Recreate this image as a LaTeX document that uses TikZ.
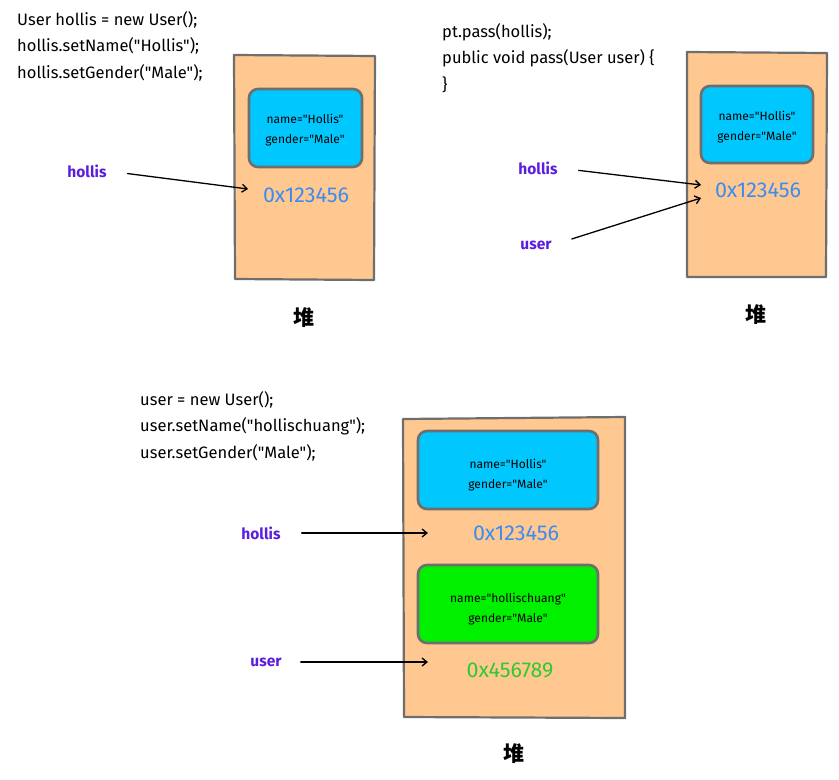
\documentclass[tikz,border=0pt]{standalone}
\usepackage{fontspec}
\setmainfont{Fira Sans}[Ligatures=TeXOff]
\newfontfamily\cjkfont{Noto Sans CJK SC}
\usetikzlibrary{arrows.meta}

\definecolor{heapfill}{HTML}{FFC891}
\definecolor{heapline}{HTML}{6E6E6E}
\definecolor{objblue}{HTML}{00C8FF}
\definecolor{objgreen}{HTML}{00F000}
\definecolor{varpurple}{HTML}{5A1EDC}
\definecolor{addrblue}{HTML}{3C8CF0}
\definecolor{addrgreen}{HTML}{32C832}

\tikzset{
  heap/.style={draw=heapline, fill=heapfill, line width=2.2pt, line join=round},
  obj/.style={draw=heapline, line width=2.6pt, rounded corners=9pt},
  code/.style={anchor=north west, inner sep=0pt, align=left,
    font=\fontsize{16.5}{26.7}\selectfont},
  fields/.style={align=center, inner sep=1pt, font=\fontsize{12}{19.5}\selectfont},
  addr/.style={inner sep=2pt, font=\fontsize{21.5}{24}\selectfont},
  var/.style={text=varpurple, inner sep=1pt, font=\fontsize{15.5}{18}\selectfont\bfseries},
  heaplabel/.style={inner sep=0pt, font=\cjkfont\fontsize{21}{23}\selectfont\bfseries},
  ptr/.style={-{Straight Barb[length=5pt,width=8pt]}, line width=1.3pt, line cap=round}
}

\begin{document}
\begin{tikzpicture}[x=1pt, y=-1pt]
\useasboundingbox (0,0) rectangle (839,780);

% ---------- step 1: create hollis ----------
\node[code] (code1) at (17,11)
  {User hollis = new User();\\hollis.setName("Hollis");\\hollis.setGender("Male");};
\draw[heap] (234,55) -- (375,56) -- (374,280) -- (235,279) -- cycle;
\draw[obj, fill=objblue] (249,89) rectangle (362,167);
\node[fields] (f1) at (305,130) {name="Hollis"\\gender="Male"};
\node[addr, text=addrblue] (a1) at (306,195) {0x123456};
\node[var] (h1) at (87,171) {hollis};
\node[heaplabel] (heap1) at (304,318) {堆};
\coordinate (a1in) at (248,189);
\draw[ptr, shorten <=20pt] (h1.east) -- (a1in);

% ---------- step 2: pass hollis as user ----------
\node[code] (code2) at (442,23)
  {pt.pass(hollis);\\public void pass(User user) \{\\\}};
\draw[heap] (687,52) -- (827,53) -- (826,277) -- (687,277) -- cycle;
\draw[obj, fill=objblue] (701,86) rectangle (813,163);
\node[fields] (f2) at (757,127) {name="Hollis"\\gender="Male"};
\node[addr, text=addrblue] (a2) at (758,190) {0x123456};
\node[var] (h2) at (538,168) {hollis};
\node[var] (u2) at (536,245) {user};
\node[heaplabel] (heap2) at (756,315) {堆};
\coordinate (a2in1) at (701,185);
\coordinate (a2in2) at (701,198);
\draw[ptr, shorten <=20pt] (h2.east) -- (a2in1);
\draw[ptr, shorten <=20pt] (u2.east) -- (a2in2);

% ---------- step 3: user gets a new object ----------
\node[code] (code3) at (140,391)
  {user = new User();\\user.setName("hollischuang");\\user.setGender("Male");};
\draw[heap] (403,419) -- (625,417) -- (625,718) -- (404,717) -- cycle;
\draw[obj, fill=objblue] (418,431) rectangle (598,509);
\node[fields] (f3) at (508,475) {name="Hollis"\\gender="Male"};
\draw[obj, fill=objgreen] (418,565) rectangle (598,643);
\node[fields] (f4) at (508,609) {name="hollischuang"\\gender="Male"};
\node[addr, text=addrblue] (a3) at (516,533) {0x123456};
\node[addr, text=addrgreen] (a4) at (510,670) {0x456789};
\node[var] (h3) at (261,533) {hollis};
\node[var] (u3) at (266,662) {user};
\node[heaplabel] (heap3) at (514,754) {堆};
\coordinate (a3in) at (428,533);
\coordinate (a4in) at (428,662);
\draw[ptr, shorten <=20pt] (h3.east) -- (a3in);
\draw[ptr, shorten <=18pt] (u3.east) -- (a4in);
\end{tikzpicture}
\end{document}
